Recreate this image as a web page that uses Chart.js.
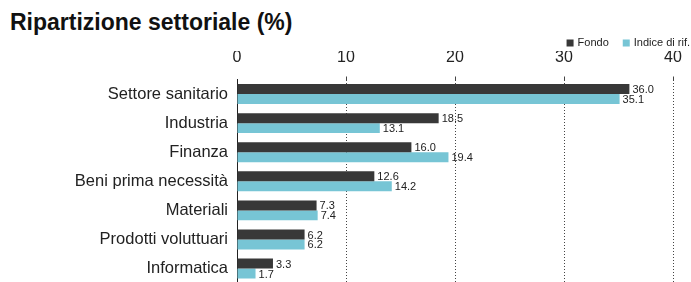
<!DOCTYPE html>
<html>
<head>
<meta charset="utf-8">
<script src="https://cdn.jsdelivr.net/npm/chart.js@4"></script>
<style>
  html, body { margin: 0; padding: 0; background: #fff; overflow: hidden; }
  #wrap { position: relative; width: 691px; height: 282px; overflow: hidden; }
  #title {
    position: absolute; left: 10px; top: 9px;
    font: bold 23px "Liberation Sans", Arial, sans-serif; color: #111;
  }
  #box { position: absolute; left: 0; top: 0; width: 691px; height: 302px; }
</style>
</head>
<body>
<div id="wrap">
  <div id="title">Ripartizione settoriale (%)</div>
  <div id="box"><canvas id="myChart"></canvas></div>
</div>
<script>
const labels = [
  "Settore sanitario",
  "Industria",
  "Finanza",
  "Beni prima necessità",
  "Materiali",
  "Prodotti voluttuari",
  "Informatica",
];
const fondo = [36.0, 18.5, 16.0, 12.6, 7.3, 6.2, 3.3];
const indice = [35.1, 13.1, 19.4, 14.2, 7.4, 6.2, 1.7];
const seriesNames = ["Fondo", "Indice di rif."];
const xTicks = [0, 10, 20, 30, 40];

const FONT = "'Liberation Sans', Arial, sans-serif";

// value labels at the end of each bar
const valueLabels = {
  id: "valueLabels",
  afterDatasetsDraw(chart) {
    const ctx = chart.ctx;
    ctx.save();
    ctx.font = "11px " + FONT;
    ctx.fillStyle = "#222";
    ctx.textAlign = "left";
    ctx.textBaseline = "middle";
    chart.data.datasets.forEach((ds, i) => {
      chart.getDatasetMeta(i).data.forEach((bar, j) => {
        ctx.fillText(ds.data[j].toFixed(1), bar.x + 3, bar.y + 1);
      });
    });
    ctx.restore();
  },
};

// small legend in the top right corner, drawn right to left
const cornerLegend = {
  id: "cornerLegend",
  afterDraw(chart) {
    const ctx = chart.ctx;
    ctx.save();
    ctx.font = "11px " + FONT;
    ctx.textBaseline = "middle";
    ctx.textAlign = "left";
    let x = chart.width - 1;
    const y = 43;
    const sets = chart.data.datasets.slice().reverse();
    sets.forEach((ds) => {
      const w = ctx.measureText(ds.label).width;
      x -= w;
      ctx.fillStyle = "#222";
      ctx.fillText(ds.label, x, y);
      x -= 4 + 7;
      ctx.fillStyle = ds.backgroundColor;
      ctx.fillRect(x, y - 3.5, 7, 7);
      x -= 14;
    });
    ctx.restore();
  },
};

const ctx = document.getElementById("myChart");
new Chart(ctx, {
  type: "bar",
  data: {
    labels: labels,
    datasets: [
      { label: seriesNames[0], data: fondo, backgroundColor: "#383838" },
      { label: seriesNames[1], data: indice, backgroundColor: "#77c5d5" },
    ],
  },
  options: {
    indexAxis: "y",
    responsive: true,
    maintainAspectRatio: false,
    animation: false,
    categoryPercentage: 0.683,
    barPercentage: 1.0,
    layout: { padding: { top: 51, right: 18, left: 0, bottom: 0 } },
    plugins: {
      title: { display: false },
      tooltip: { enabled: false },
      legend: { display: false },
    },
    scales: {
      x: {
        position: "top",
        min: 0,
        max: 40,
        afterBuildTicks: (scale) => {
          scale.ticks = xTicks.map((v) => ({ value: v }));
        },
        afterFit: (scale) => { scale.height = 28.5; },
        grid: {
          color: (c) => (c.tick && c.tick.value === 0 ? "rgba(0,0,0,0)" : "#444"),
          lineWidth: 1,
          tickLength: 3,
        },
        border: { display: false, dash: [1, 2] },
        ticks: {
          color: "#222",
          padding: 9,
          font: { family: FONT, size: 16 },
        },
      },
      y: {
        afterFit: (scale) => { scale.width = 237; },
        grid: { display: false, tickLength: 0 },
        border: { display: true, color: "#222", width: 1 },
        ticks: {
          color: "#222",
          padding: 9,
          font: { family: FONT, size: 16.5 },
        },
      },
    },
  },
  plugins: [valueLabels, cornerLegend],
});
</script>
</body>
</html>
